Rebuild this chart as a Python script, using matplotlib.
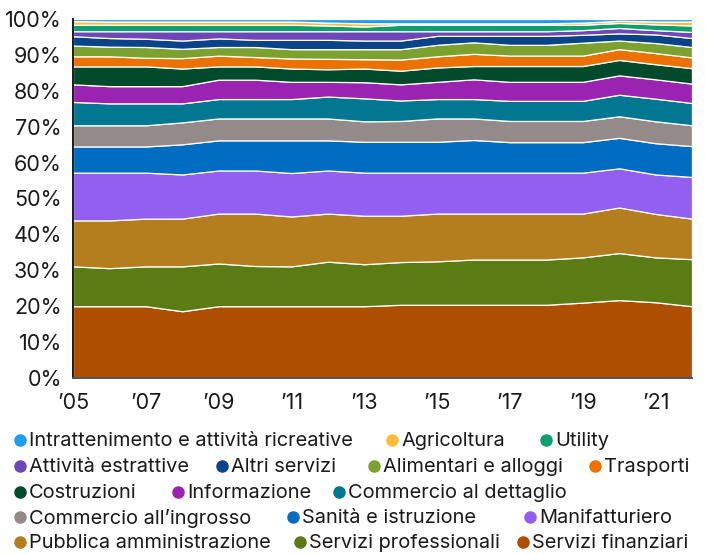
import numpy as np
import matplotlib
matplotlib.use("Agg")
import matplotlib.pyplot as plt
from matplotlib.lines import Line2D
from matplotlib.ticker import FuncFormatter, MultipleLocator

plt.rcParams["font.family"] = ["Inter", "DejaVu Sans"]

# Years covered by the series
years = list(range(2005, 2023))

# Share of each sector (percent), bottom of the stack first
servizi_finanziari = [20.0, 20.0, 20.0, 18.6, 20.0, 20.0, 20.0, 20.0, 20.0, 20.4, 20.4, 20.4, 20.4, 20.4, 21.0, 21.7, 21.1, 20.0]
servizi_professionali = [11.1, 10.6, 11.1, 12.5, 11.9, 11.2, 11.1, 12.4, 11.7, 11.9, 12.1, 12.6, 12.6, 12.6, 12.6, 13.1, 12.5, 13.1]
pubblica_amministrazione = [12.8, 13.3, 13.3, 13.3, 13.9, 14.6, 13.9, 13.4, 13.5, 12.9, 13.3, 12.8, 12.8, 12.8, 12.2, 12.7, 12.1, 11.3]
manifatturiero = [13.3, 13.3, 12.8, 12.3, 12.0, 12.0, 12.1, 12.0, 12.0, 12.0, 11.4, 11.4, 11.4, 11.4, 11.4, 10.9, 11.0, 11.6]
sanita_istruzione = [7.3, 7.3, 7.3, 8.4, 8.4, 8.4, 9.1, 8.4, 8.6, 8.6, 8.6, 9.1, 8.5, 8.5, 8.5, 8.5, 8.7, 8.6]
commercio_ingrosso = [5.9, 5.9, 5.9, 6.1, 6.1, 6.1, 6.1, 6.1, 5.7, 5.8, 6.5, 6.0, 5.9, 5.9, 5.9, 6.0, 6.1, 5.8]
commercio_dettaglio = [6.5, 6.1, 6.1, 5.3, 5.4, 5.4, 5.4, 6.1, 6.4, 5.7, 5.4, 5.4, 5.6, 5.6, 5.6, 6.0, 6.3, 6.2]
informazione = [4.9, 4.8, 4.8, 4.8, 5.4, 5.4, 4.8, 4.1, 4.5, 4.5, 4.8, 5.5, 5.3, 5.3, 5.3, 5.4, 5.4, 5.4]
costruzioni = [5.0, 5.5, 5.5, 4.9, 3.7, 3.7, 3.7, 3.5, 3.8, 3.8, 4.0, 3.7, 4.4, 4.4, 4.4, 4.3, 4.2, 4.3]
trasporti = [2.8, 2.8, 2.4, 2.9, 3.0, 2.6, 2.8, 2.9, 2.6, 3.1, 3.1, 3.4, 2.9, 2.9, 2.9, 3.0, 3.1, 3.0]
alimentari_alloggi = [3.0, 2.7, 3.0, 2.6, 2.4, 2.8, 2.6, 2.7, 2.8, 2.9, 3.2, 3.2, 3.0, 3.0, 3.6, 2.4, 2.8, 2.9]
altri_servizi = [2.6, 2.4, 2.3, 2.3, 2.4, 2.0, 2.6, 2.6, 2.4, 2.4, 2.5, 1.8, 2.5, 2.5, 2.2, 2.0, 2.4, 2.5]
attivita_estrattive = [1.4, 1.9, 2.1, 2.6, 2.0, 2.4, 2.4, 2.4, 2.6, 2.6, 1.3, 1.3, 1.3, 1.3, 1.3, 1.5, 1.2, 1.7]
utility = [1.8, 1.8, 1.8, 1.8, 1.8, 1.8, 1.8, 1.6, 1.3, 1.8, 1.8, 1.8, 1.8, 1.8, 1.5, 1.4, 1.6, 1.8]
agricoltura = [1.0, 0.9, 0.9, 0.9, 0.9, 0.9, 0.9, 0.8, 0.9, 0.4, 0.4, 0.4, 0.4, 0.4, 0.6, 0.6, 0.8, 1.1]
intrattenimento = [0.6, 0.7, 0.7, 0.7, 0.7, 0.7, 0.7, 1.0, 1.2, 1.2, 1.2, 1.2, 1.2, 1.2, 1.0, 0.5, 0.7, 0.7]

sector_names = [
    "Servizi finanziari", "Servizi professionali", "Pubblica amministrazione",
    "Manifatturiero", "Sanità e istruzione", "Commercio all\u2019ingrosso",
    "Commercio al dettaglio", "Informazione", "Costruzioni", "Trasporti",
    "Alimentari e alloggi", "Altri servizi", "Attività estrattive", "Utility",
    "Agricoltura", "Intrattenimento e attività ricreative",
]
sector_colors = [
    "#ad4e00", "#5b7b15", "#b47e1e", "#935ff0", "#016dc2", "#938a89",
    "#027792", "#9b23b1", "#014a2c", "#ec7103", "#7da12f", "#0a4487",
    "#6f46b8", "#0e9f6e", "#fbbd3a", "#1f9cf0",
]
series = [
    servizi_finanziari, servizi_professionali, pubblica_amministrazione,
    manifatturiero, sanita_istruzione, commercio_ingrosso, commercio_dettaglio,
    informazione, costruzioni, trasporti, alimentari_alloggi, altri_servizi,
    attivita_estrattive, utility, agricoltura, intrattenimento,
]

# Normalise each year to a 100% total
values = np.array(series, dtype=float)
values = values / values.sum(axis=0) * 100

W, H = 705, 554
fig = plt.figure(figsize=(W / 100, H / 100), dpi=100)
ax = fig.add_axes([73 / W, 1 - 378 / H, (692 - 73) / W, (378 - 19) / H])

ax.stackplot(years, values, colors=sector_colors, edgecolor="white", linewidth=0.9)

ax.set_xlim(2005, 2022)
ax.set_ylim(0, 100)
ax.yaxis.set_major_locator(MultipleLocator(10))
ax.yaxis.set_major_formatter(FuncFormatter(lambda v, _: f"{v:.0f}%"))
ax.set_xticks(list(range(2005, 2023, 2)))
ax.set_xticklabels([f"\u2019{y % 100:02d}" for y in range(2005, 2023, 2)])
ax.tick_params(axis="both", length=0, labelsize=15.5, colors="#1a1a1a")
ax.tick_params(axis="y", pad=8)
ax.tick_params(axis="x", pad=11)
for side in ("top", "right"):
    ax.spines[side].set_visible(False)
ax.spines["left"].set_color("#1a1a1a")
ax.spines["left"].set_linewidth(1.4)
ax.spines["bottom"].set_color("#555555")
ax.spines["bottom"].set_linewidth(1.4)
ax.spines["left"].set_zorder(5)
ax.spines["bottom"].set_zorder(5)

# Legend laid out in rows, top layer listed first
legend_rows = [
    [("Intrattenimento e attività ricreative", 20), ("Agricoltura", 392), ("Utility", 546)],
    [("Attività estrattive", 20), ("Altri servizi", 222), ("Alimentari e alloggi", 374), ("Trasporti", 595)],
    [("Costruzioni", 20), ("Informazione", 178), ("Commercio al dettaglio", 339)],
    [("Commercio all\u2019ingrosso", 20), ("Sanità e istruzione", 293), ("Manifatturiero", 530)],
    [("Pubblica amministrazione", 20), ("Servizi professionali", 300), ("Servizi finanziari", 523)],
]
row_y = [440, 466, 492, 517, 542]
color_of = dict(zip(sector_names, sector_colors))
for row, yy in zip(legend_rows, row_y):
    for name, xx in row:
        fig.add_artist(Line2D([xx / W], [1 - yy / H], transform=fig.transFigure,
                              marker="o", markersize=8, color=color_of[name], linestyle="none"))
        fig.text((xx + 9) / W, 1 - (yy + 1) / H, name, fontsize=14.4, color="#1a1a1a",
                 va="center", ha="left")

fig.savefig("out.png", dpi=100)
